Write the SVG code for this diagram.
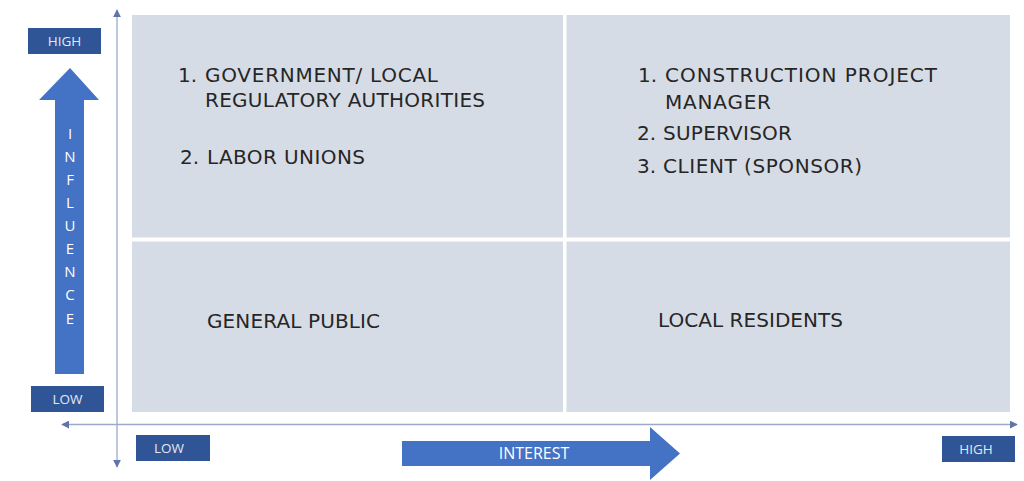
<svg xmlns="http://www.w3.org/2000/svg" width="1024" height="481" viewBox="0 0 1024 481">
<style>
.q{fill:#D6DCE5}
.t{font-family:"DejaVu Sans","Open Sans",sans-serif;font-size:20px;fill:#262626}
.box{fill:#2F5597}
.bl{font-family:"Open Sans","Liberation Sans",sans-serif;font-size:13.5px;fill:#E4E8F2;text-anchor:middle}
.arr{fill:#4472C4}
.ax{stroke:#9AAACB;stroke-width:1.3;fill:none}
.il{font-family:"Open Sans","Liberation Sans",sans-serif;font-size:15px;fill:#FFFFFF;text-anchor:middle}
</style>
<defs>
<marker id="ah" viewBox="0 0 10 10" refX="9" refY="5" markerWidth="8" markerHeight="8" markerUnits="userSpaceOnUse" orient="auto-start-reverse">
<path d="M0,0 L10,5 L0,10 z" fill="#5F75A8"/>
</marker>
</defs>
<rect width="1024" height="481" fill="#FFFFFF"/>
<g id="connectors">
<line class="ax" x1="117" y1="10" x2="117" y2="467" marker-start="url(#ah)" marker-end="url(#ah)"/>
<line class="ax" x1="62" y1="424.5" x2="1017" y2="424.5" marker-start="url(#ah)" marker-end="url(#ah)"/>
</g>
<g id="q-top-left">
<rect class="q" x="132" y="15" width="431" height="222.5"/>
<text class="t" x="178" y="81.5">1.</text>
<text class="t" x="205" y="81.5" textLength="233" lengthAdjust="spacing">GOVERNMENT/ LOCAL</text>
<text class="t" x="205" y="107" textLength="280" lengthAdjust="spacing">REGULATORY AUTHORITIES</text>
<text class="t" x="180" y="163.5">2.</text>
<text class="t" x="207" y="163.5" textLength="158" lengthAdjust="spacing">LABOR UNIONS</text>
</g>
<g id="q-top-right">
<rect class="q" x="566.5" y="15" width="443.5" height="222.5"/>
<text class="t" x="638" y="81.5">1.</text>
<text class="t" x="665" y="81.5" textLength="272" lengthAdjust="spacing">CONSTRUCTION PROJECT</text>
<text class="t" x="665" y="108.5" textLength="106" lengthAdjust="spacing">MANAGER</text>
<text class="t" x="637" y="140">2.</text>
<text class="t" x="663" y="140" textLength="129" lengthAdjust="spacing">SUPERVISOR</text>
<text class="t" x="637" y="173">3.</text>
<text class="t" x="663" y="173" textLength="199" lengthAdjust="spacing">CLIENT (SPONSOR)</text>
</g>
<g id="q-bottom-left">
<rect class="q" x="132" y="241.5" width="431" height="170.5"/>
<text class="t" x="207" y="328" textLength="173" lengthAdjust="spacing">GENERAL PUBLIC</text>
</g>
<g id="q-bottom-right">
<rect class="q" x="566.5" y="241.5" width="443.5" height="170.5"/>
<text class="t" x="658" y="327" textLength="185" lengthAdjust="spacing">LOCAL RESIDENTS</text>
</g>
<g id="influence-arrow">
<polygon class="arr" points="70,68 99,100 84,100 84,374 55,374 55,100 39,100"/>
<text class="il" x="70" y="139">I</text>
<text class="il" x="70" y="162">N</text>
<text class="il" x="70" y="185">F</text>
<text class="il" x="70" y="208">L</text>
<text class="il" x="70" y="231">U</text>
<text class="il" x="70" y="254">E</text>
<text class="il" x="70" y="277">N</text>
<text class="il" x="70" y="300">C</text>
<text class="il" x="70" y="324">E</text>
</g>
<g id="interest-arrow">
<polygon class="arr" points="402,441 650,441 650,427 680,453.5 650,480 650,466 402,466"/>
<text class="il" x="534" y="459" style="font-size:16px">INTEREST</text>
</g>
<g id="high-y">
<rect class="box" x="28" y="28" width="73" height="26"/>
<text class="bl" x="64.5" y="46">HIGH</text>
</g>
<g id="low-y">
<rect class="box" x="31" y="386" width="73" height="26"/>
<text class="bl" x="67.5" y="404">LOW</text>
</g>
<g id="low-x">
<rect class="box" x="136" y="435" width="74" height="26"/>
<text class="bl" x="169" y="453">LOW</text>
</g>
<g id="high-x">
<rect class="box" x="942" y="436" width="73" height="26"/>
<text class="bl" x="976" y="454">HIGH</text>
</g>
</svg>
